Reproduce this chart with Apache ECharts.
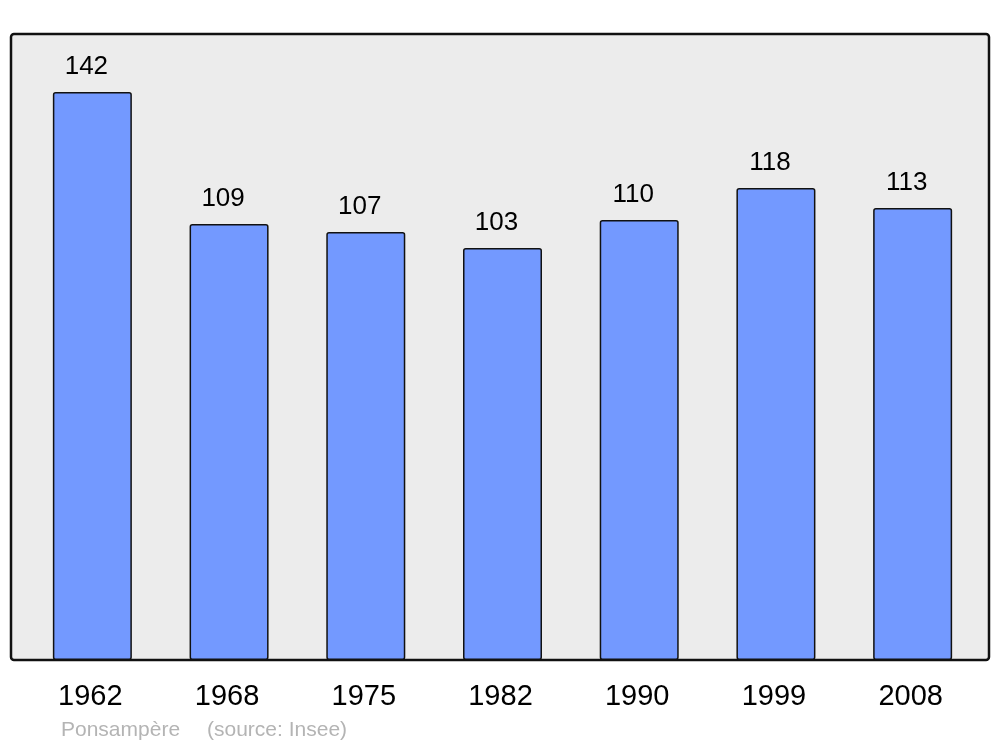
<!DOCTYPE html>
<html>
<head>
<meta charset="utf-8">
<script src="https://cdn.jsdelivr.net/npm/echarts@6/dist/echarts.min.js"></script>
<style>
  html, body { margin: 0; padding: 0; background: #fff; }
  #chart { width: 1000px; height: 747px; }
</style>
</head>
<body>
<div id="chart"></div>
<script>
// population by census year
const years = ['1962', '1968', '1975', '1982', '1990', '1999', '2008'];
const population = [142, 109, 107, 103, 110, 118, 113];
const townName = 'Ponsampère';
const sourceText = '(source: Insee)';

const chart = echarts.init(document.getElementById('chart'));

chart.setOption({
  animation: false,
  textStyle: { fontFamily: 'Liberation Sans, Arial, sans-serif' },
  grid: { left: 24, right: 19, top: 34, bottom: 87 },
  graphic: [
    {
      type: 'rect',
      z: -10,
      shape: { x: 11, y: 34, width: 978, height: 626, r: 3 },
      style: { fill: '#ececec', stroke: '#111', lineWidth: 2.5 }
    },
    {
      type: 'text',
      left: 61,
      top: 720,
      style: {
        text: townName,
        fill: '#b4b4b4',
        font: '21px "Liberation Sans", Arial, sans-serif'
      }
    },
    {
      type: 'text',
      left: 207,
      top: 720,
      style: {
        text: sourceText,
        fill: '#b4b4b4',
        font: '21px "Liberation Sans", Arial, sans-serif'
      }
    }
  ],
  xAxis: {
    type: 'category',
    data: years,
    axisLine: { show: false },
    axisTick: { show: false },
    axisLabel: {
      color: '#000',
      fontSize: 29,
      margin: 22,
      padding: [0, 4, 0, 0]
    }
  },
  yAxis: {
    type: 'value',
    min: 0,
    max: 156.5,
    show: false,
    splitLine: { show: false }
  },
  series: [
    {
      type: 'bar',
      data: population,
      barWidth: 79,
      itemStyle: {
        color: '#7399ff',
        borderColor: '#111',
        borderWidth: 1.5,
        borderRadius: 2
      },
      label: {
        show: true,
        position: 'top',
        distance: 12,
        offset: [-6, 0],
        color: '#000',
        fontSize: 26
      }
    }
  ]
});
</script>
</body>
</html>
